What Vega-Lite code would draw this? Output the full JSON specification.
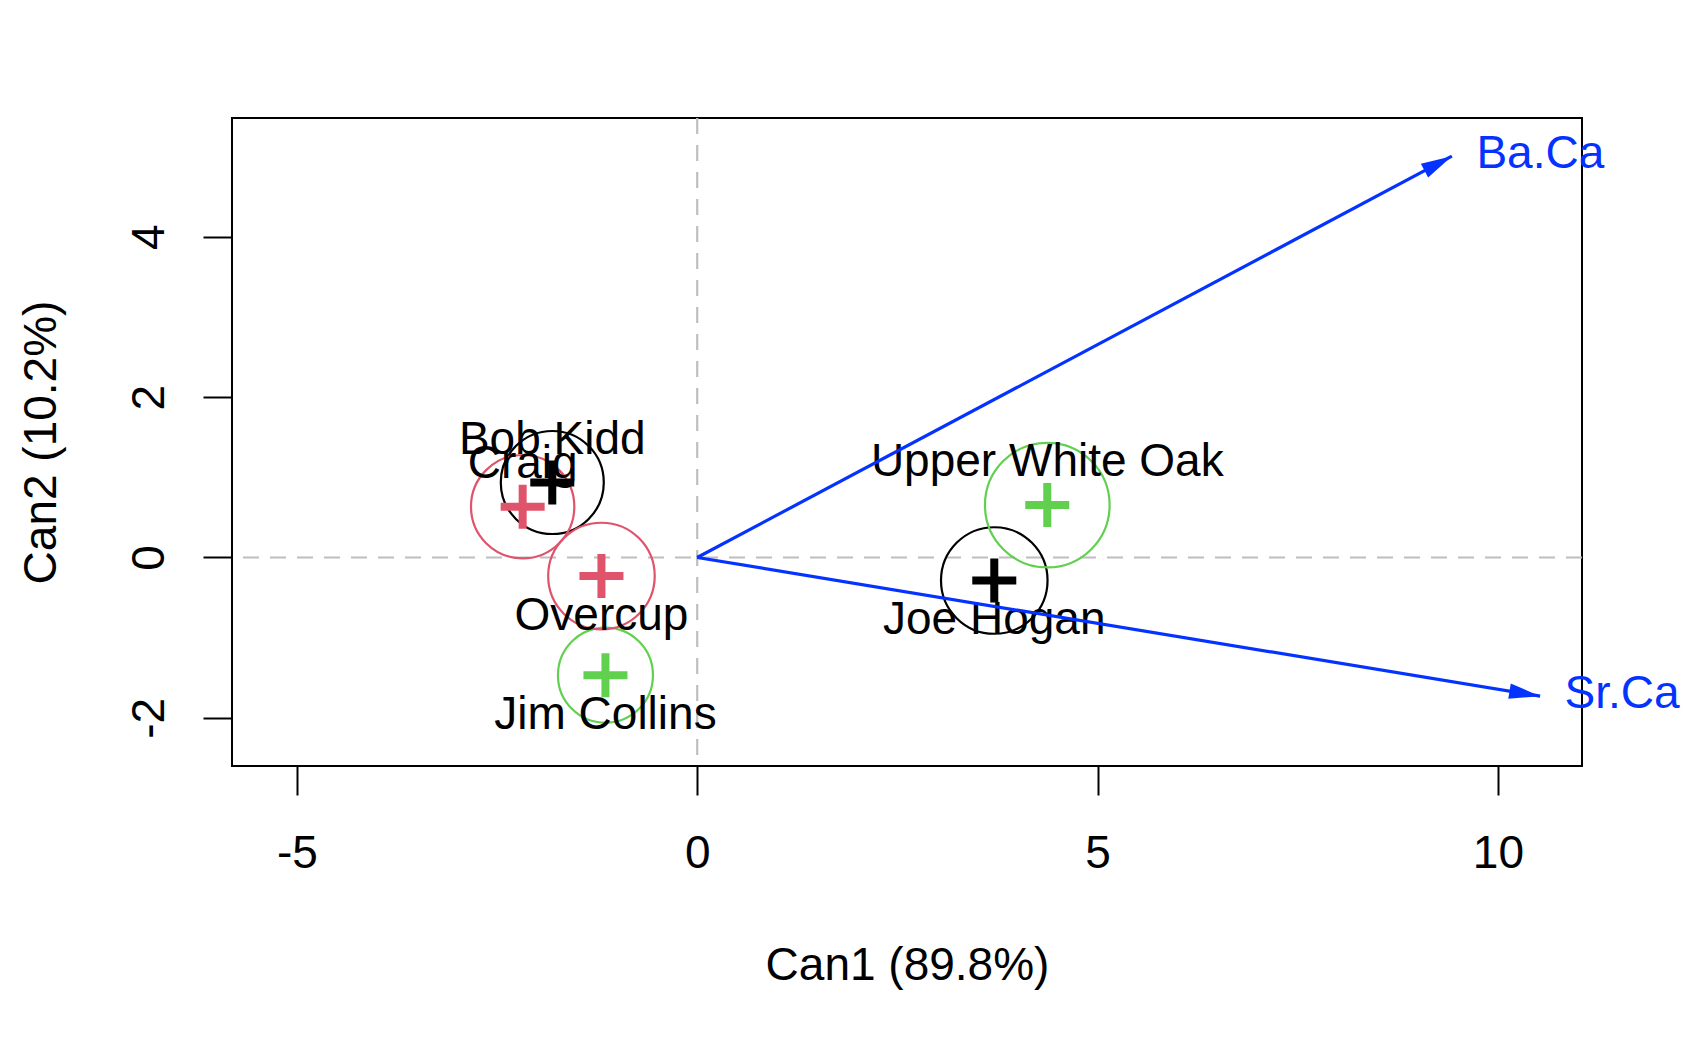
{
  "$schema": "https://vega.github.io/schema/vega-lite/v6.json",
  "width": 1350,
  "height": 648,
  "autosize": {"type": "none"},
  "padding": {"left": 232, "top": 118, "right": 122, "bottom": 282},
  "background": "white",
  "config": {
    "view": {"stroke": "black", "strokeWidth": 2},
    "font": "Liberation Sans",
    "text": {"font": "Liberation Sans"}
  },
  "datasets": {
    "groups": [
      {"site": "Bob Kidd", "Can1": -1.81, "Can2": 0.935, "r": 0.643},
      {"site": "Craig", "Can1": -2.18, "Can2": 0.634, "r": 0.645},
      {"site": "Jim Collins", "Can1": -1.146, "Can2": -1.467, "r": 0.593},
      {"site": "Joe Hogan", "Can1": 3.71, "Can2": -0.287, "r": 0.665},
      {"site": "Overcup", "Can1": -1.196, "Can2": -0.231, "r": 0.665},
      {"site": "Upper White Oak", "Can1": 4.372, "Can2": 0.653, "r": 0.778}
    ],
    "vectors": [
      {"variable": "Ba.Ca", "Can1": 9.425, "Can2": 5.004, "origin1": 0, "origin2": 0},
      {"variable": "Sr.Ca", "Can1": 10.527, "Can2": -1.729, "origin1": 0, "origin2": 0}
    ],
    "refs": [
      {"ref": 0}
    ]
  },
  "layer": [
    {
      "data": {"name": "refs"},
      "mark": {"type": "rule", "color": "#BEBEBE", "strokeWidth": 2.2, "strokeDash": [16, 11]},
      "encoding": {
        "x": {
          "field": "ref", "type": "quantitative",
          "scale": {"domain": [-5.81, 11.05], "nice": false, "zero": false},
          "axis": {
            "title": "Can1 (89.8%)",
            "values": [-5, 0, 5, 10],
            "labelExpr": "'' + datum.value",
            "domain": false, "grid": false,
            "tickSize": 29, "tickWidth": 2, "tickColor": "black",
            "labelFont": "Liberation Sans", "labelFontSize": 46, "labelColor": "black",
            "labelBaseline": "middle", "labelAlign": "center", "labelPadding": 58,
            "labelFlush": false, "labelOverlap": false,
            "titleFont": "Liberation Sans", "titleFontSize": 46, "titleFontWeight": "normal", "titleColor": "black",
            "titleBaseline": "middle", "titleAlign": "center", "titleX": 675, "titleY": 199
          }
        }
      }
    },
    {
      "data": {"name": "refs"},
      "mark": {"type": "rule", "color": "#BEBEBE", "strokeWidth": 2.2, "strokeDash": [16, 11]},
      "encoding": {
        "y": {
          "field": "ref", "type": "quantitative",
          "scale": {"domain": [-2.6, 5.48], "nice": false, "zero": false},
          "axis": {
            "title": "Can2 (10.2%)",
            "values": [-2, 0, 2, 4],
            "labelExpr": "'' + datum.value",
            "domain": false, "grid": false,
            "tickSize": 29, "tickWidth": 2, "tickColor": "black",
            "labelFont": "Liberation Sans", "labelFontSize": 46, "labelColor": "black",
            "labelAngle": 270, "labelBaseline": "middle", "labelAlign": "center", "labelPadding": 54,
            "labelFlush": false, "labelOverlap": false,
            "titleFont": "Liberation Sans", "titleFontSize": 46, "titleFontWeight": "normal", "titleColor": "black",
            "titleAngle": 270, "titleBaseline": "middle", "titleAlign": "center", "titleX": -191, "titleY": 324
          }
        }
      }
    },
    {
      "data": {"name": "groups"},
      "mark": {"type": "point", "shape": "circle", "filled": false, "strokeWidth": 2.2, "opacity": 1},
      "encoding": {
        "x": {"field": "Can1", "type": "quantitative"},
        "y": {"field": "Can2", "type": "quantitative"},
        "size": {
          "field": "r", "type": "quantitative",
          "scale": {"type": "pow", "exponent": 2, "domain": [0, 1], "range": [0, 25664]},
          "legend": null
        },
        "color": {
          "field": "site", "type": "nominal",
          "scale": {
            "domain": ["Bob Kidd", "Craig", "Jim Collins", "Joe Hogan", "Overcup", "Upper White Oak"],
            "range": ["#000000", "#DF536B", "#61D04F", "#000000", "#DF536B", "#61D04F"]
          },
          "legend": null
        }
      }
    },
    {
      "data": {"name": "groups"},
      "mark": {"type": "point", "shape": "M-1,0H1M0,-1V1", "filled": false, "strokeWidth": 8, "size": 1936, "opacity": 1},
      "encoding": {
        "x": {"field": "Can1", "type": "quantitative"},
        "y": {"field": "Can2", "type": "quantitative"},
        "color": {"field": "site", "type": "nominal", "legend": null}
      }
    },
    {
      "data": {"name": "groups"},
      "transform": [{"filter": "datum.Can2 > 0"}],
      "mark": {"type": "text", "fontSize": 46, "color": "black", "align": "center", "baseline": "alphabetic", "dy": -29},
      "encoding": {
        "x": {"field": "Can1", "type": "quantitative"},
        "y": {"field": "Can2", "type": "quantitative"},
        "text": {"field": "site", "type": "nominal"}
      }
    },
    {
      "data": {"name": "groups"},
      "transform": [{"filter": "datum.Can2 <= 0"}],
      "mark": {"type": "text", "fontSize": 46, "color": "black", "align": "center", "baseline": "alphabetic", "dy": 53.5},
      "encoding": {
        "x": {"field": "Can1", "type": "quantitative"},
        "y": {"field": "Can2", "type": "quantitative"},
        "text": {"field": "site", "type": "nominal"}
      }
    },
    {
      "data": {"name": "vectors"},
      "mark": {"type": "rule", "color": "#0433FF", "strokeWidth": 3.2},
      "encoding": {
        "x": {"field": "origin1", "type": "quantitative"},
        "y": {"field": "origin2", "type": "quantitative"},
        "x2": {"field": "Can1"},
        "y2": {"field": "Can2"}
      }
    },
    {
      "data": {"name": "vectors"},
      "transform": [{"filter": "datum.variable === 'Ba.Ca'"}],
      "mark": {"type": "point", "shape": "M0,0L-2,-0.5L-2,0.5Z", "filled": true, "color": "#0433FF", "size": 961, "angle": -27.97, "opacity": 1},
      "encoding": {
        "x": {"field": "Can1", "type": "quantitative"},
        "y": {"field": "Can2", "type": "quantitative"}
      }
    },
    {
      "data": {"name": "vectors"},
      "transform": [{"filter": "datum.variable === 'Sr.Ca'"}],
      "mark": {"type": "point", "shape": "M0,0L-2,-0.5L-2,0.5Z", "filled": true, "color": "#0433FF", "size": 961, "angle": 9.33, "opacity": 1},
      "encoding": {
        "x": {"field": "Can1", "type": "quantitative"},
        "y": {"field": "Can2", "type": "quantitative"}
      }
    },
    {
      "data": {"name": "vectors"},
      "mark": {"type": "text", "fontSize": 46, "color": "#0433FF", "align": "left", "baseline": "middle", "dx": 24.5, "dy": -2},
      "encoding": {
        "x": {"field": "Can1", "type": "quantitative"},
        "y": {"field": "Can2", "type": "quantitative"},
        "text": {"field": "variable", "type": "nominal"}
      }
    }
  ]
}
